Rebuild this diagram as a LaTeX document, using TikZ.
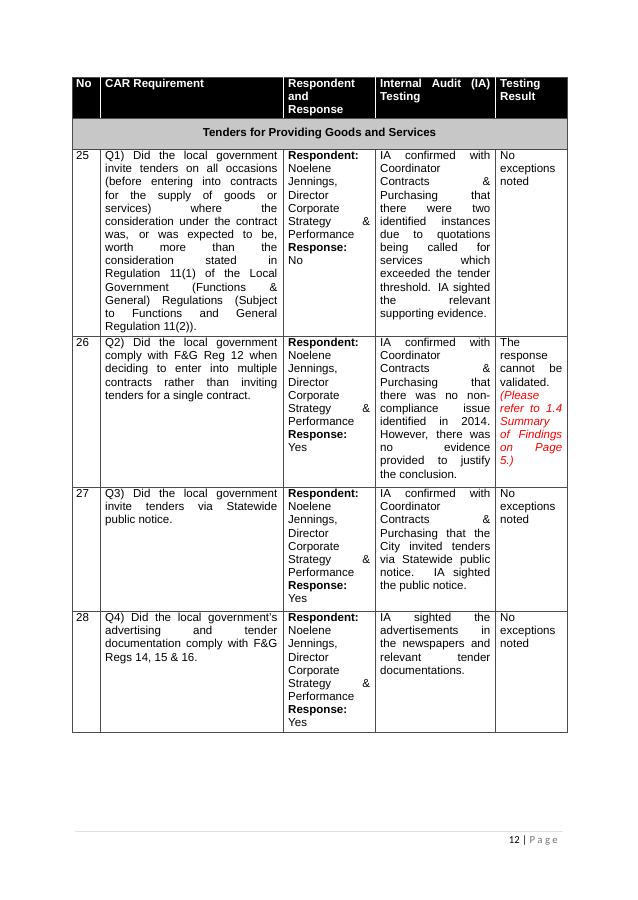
\documentclass[tikz,border=0pt]{standalone}
\usepackage{fontspec}
\setmainfont{Liberation Sans}
\newfontfamily\footfont{Carlito}
\begin{document}
\begin{tikzpicture}[x=0.9355pt,y=-0.9355pt,
  cell/.style={anchor=north west,inner sep=0pt,align=justify,font=\fontsize{10.8}{12.3}\selectfont},
  hd/.style={cell,text=white,font=\fontsize{10.8}{12.3}\selectfont\bfseries},
  ln/.style={line width=0.5pt,draw=black!70}]
\useasboundingbox (0,0) rectangle (638,900);
\fill[white] (0,0) rectangle (638,900);
\fill[black] (72,77) rectangle (567,118);
\fill[black!22] (72,118) rectangle (567,149);
% grid
\draw[ln] (72,77) rectangle (567,732);
\foreach \y in {118,149,336,487,611} \draw[ln] (72,\y) -- (567,\y);
\foreach \x in {100,283,375,495} {\draw[ln,draw=white] (\x,77) -- (\x,118); \draw[ln] (\x,149) -- (\x,732);}
% header
\node[hd,text width=18.7pt] (h1) at (76,79) {No};
\node[hd,text width=161pt] (h2) at (105,79) {CAR Requirement};
\node[hd,text width=76.7pt,align=left] (h3) at (288,79) {Respondent\\and\\Response};
\node[hd,text width=103pt] (h4) at (380,79) {Internal Audit (IA)\linebreak Testing};
\node[hd,text width=58pt,align=left] (h5) at (500,79) {Testing\\Result};
\node[cell,font=\fontsize{10.8}{12.3}\selectfont\bfseries,anchor=center] (sec) at (319.5,133.5) {Tenders for Providing Goods and Services};
% row 25
\node[cell,text width=18.7pt] (n25) at (76,151) {25};
\node[cell,text width=161pt] (q25) at (105,151) {Q1) Did the local government\linebreak invite tenders on all occasions\linebreak (before entering into contracts\linebreak for the supply of goods or\linebreak services) where the\linebreak consideration under the contract\linebreak was, or was expected to be,\linebreak worth more than the\linebreak consideration stated in\linebreak Regulation 11(1) of the Local\linebreak Government (Functions \&\linebreak General) Regulations (Subject\linebreak to Functions and General\linebreak Regulation 11(2)).};
\node[cell,text width=76.7pt] (r25) at (288,151) {\textbf{Respondent:}\linebreak Noelene\linebreak Jennings,\linebreak Director\linebreak Corporate\linebreak Strategy \&\linebreak Performance\linebreak \textbf{Response:}\linebreak No};
\node[cell,text width=103pt] (t25) at (380,151) {IA confirmed with\linebreak Coordinator\linebreak Contracts \&\linebreak Purchasing that\linebreak there were two\linebreak identified instances\linebreak due to quotations\linebreak being called for\linebreak services which\linebreak exceeded the tender\linebreak threshold. IA sighted\linebreak the relevant\linebreak supporting evidence.};
\node[cell,text width=58pt,align=left] (s25) at (500,151) {No\\exceptions\\noted};
% row 26
\node[cell,text width=18.7pt] (n26) at (76,338) {26};
\node[cell,text width=161pt] (q26) at (105,338) {Q2) Did the local government\linebreak comply with F\&G Reg 12 when\linebreak deciding to enter into multiple\linebreak contracts rather than inviting\linebreak tenders for a single contract.};
\node[cell,text width=76.7pt] (r26) at (288,338) {\textbf{Respondent:}\linebreak Noelene\linebreak Jennings,\linebreak Director\linebreak Corporate\linebreak Strategy \&\linebreak Performance\linebreak \textbf{Response:}\linebreak Yes};
\node[cell,text width=103pt] (t26) at (380,338) {IA confirmed with\linebreak Coordinator\linebreak Contracts \&\linebreak Purchasing that\linebreak there was no non-\linebreak compliance issue\linebreak identified in 2014.\linebreak However, there was\linebreak no evidence\linebreak provided to justify\linebreak the conclusion.};
\node[cell,text width=58pt] (s26) at (500,338) {The\linebreak response\linebreak cannot be\linebreak validated.\linebreak {\color{red}\itshape (Please\linebreak refer to 1.4\linebreak Summary\linebreak of Findings\linebreak on Page\linebreak 5.)}};
% row 27
\node[cell,text width=18.7pt] (n27) at (76,489) {27};
\node[cell,text width=161pt] (q27) at (105,489) {Q3) Did the local government\linebreak invite tenders via Statewide\linebreak public notice.};
\node[cell,text width=76.7pt] (r27) at (288,489) {\textbf{Respondent:}\linebreak Noelene\linebreak Jennings,\linebreak Director\linebreak Corporate\linebreak Strategy \&\linebreak Performance\linebreak \textbf{Response:}\linebreak Yes};
\node[cell,text width=103pt] (t27) at (380,489) {IA confirmed with\linebreak Coordinator\linebreak Contracts \&\linebreak Purchasing that the\linebreak City invited tenders\linebreak via Statewide public\linebreak notice. IA sighted\linebreak the public notice.};
\node[cell,text width=58pt,align=left] (s27) at (500,489) {No\\exceptions\\noted};
% row 28
\node[cell,text width=18.7pt] (n28) at (76,613) {28};
\node[cell,text width=161pt] (q28) at (105,613) {Q4) Did the local government's\linebreak advertising and tender\linebreak documentation comply with F\&G\linebreak Regs 14, 15 \& 16.};
\node[cell,text width=76.7pt] (r28) at (288,613) {\textbf{Respondent:}\linebreak Noelene\linebreak Jennings,\linebreak Director\linebreak Corporate\linebreak Strategy \&\linebreak Performance\linebreak \textbf{Response:}\linebreak Yes};
\node[cell,text width=103pt] (t28) at (380,613) {IA sighted the\linebreak advertisements in\linebreak the newspapers and\linebreak relevant tender\linebreak documentations.};
\node[cell,text width=58pt,align=left] (s28) at (500,613) {No\\exceptions\\noted};
% footer
\draw[black!12,line width=0.6pt] (75,831) -- (563,831);
\node[anchor=east,inner sep=0pt,font=\footfont\fontsize{10}{12}\selectfont] (pg) at (558,841) {12 | {\color{black!55}P a g e}};
\end{tikzpicture}
\end{document}
